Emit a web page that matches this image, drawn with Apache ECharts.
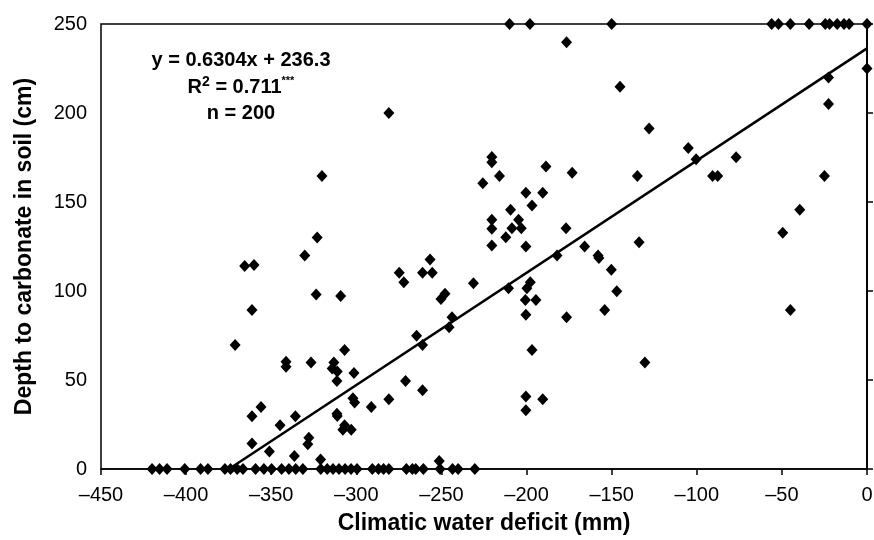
<!DOCTYPE html>
<html>
<head>
<meta charset="utf-8">
<script src="https://cdn.jsdelivr.net/npm/echarts@6/dist/echarts.min.js"></script>
<style>
  html, body { margin: 0; padding: 0; background: #fff; }
  #chart { width: 874px; height: 540px; }
</style>
</head>
<body>
<div id="chart"></div>
<script>
// points: [deficit (mm), depth (cm)]
const zeroRowX = [-420, -415.6, -411.2, -400.8, -391.5, -387.2, -377.2, -373.9, -370, -366.6,
    -359.2, -354.3, -349.8, -343.9, -339.6, -335.6, -331.4, -320.9, -317.1, -313.7, -310.2,
    -306.6, -303.1, -299.6, -290.6, -287, -284, -280.9, -270.6, -267.1, -265.1, -260.6,
    -250.8, -243.5, -240.2, -230.4];
const topRowX = [-210, -198, -150, -56, -52, -45, -34, -24.5, -22, -17.5, -13.5, -10.5, 0];
const otherPoints = [
    [-323.6, 98], [-309.2, 97.2], [-361.3, 89.3], [-371.2, 69.6], [-306.9, 66.8], [-341.3, 60.2],
    [-341.3, 57.4], [-326.6, 59.8], [-313.2, 59.8], [-314.2, 56.5], [-311.2, 54.8], [-301.4, 53.9],
    [-311.4, 49.5], [-302, 39.8], [-301, 37.3], [-291.2, 34.9], [-280.9, 39.2], [-356, 34.9],
    [-361.3, 29.7], [-335.8, 29.7], [-344.8, 24.6], [-311.4, 31.1], [-311.2, 29.8], [-306.9, 24.6],
    [-307.9, 22], [-303, 22], [-327.9, 17.6], [-328.5, 13.9], [-361.3, 14.3], [-351.1, 9.8],
    [-336.4, 7.3], [-321, 5.4],
    [-320.2, 164.6], [-323, 130], [-330.3, 120], [-365.6, 114], [-360.1, 114.6],
    [-280.9, 200], [-128, 191.3], [-220.4, 175.3], [-220.4, 172.4], [-188.6, 170], [-215.9, 164.6],
    [-173.2, 166.5], [-134.9, 164.6], [-225.7, 160.6], [-200.4, 155.2], [-190.5, 155.2],
    [-196.8, 148.1], [-209.4, 145.6], [-220.4, 140], [-204.7, 140], [-220.4, 135], [-208.6, 135.3],
    [-203.1, 135.3], [-212.2, 130.2], [-220.4, 125.5], [-200.4, 125], [-176.8, 135.3], [-165.9, 125],
    [-158, 119.9], [-157.5, 118.6], [-150.2, 111.9], [-133.9, 127.4], [-147, 99.8], [-182.1, 119.9],
    [-274.8, 110.2], [-272.1, 104.9], [-256.7, 117.7], [-261.1, 110.2], [-255.4, 110.2],
    [-231.2, 104.3], [-247.9, 98.4], [-250.3, 95.5], [-210.6, 101.5], [-197.8, 104.9],
    [-199.8, 101.5], [-200.7, 95], [-194.5, 95],
    [-200.4, 86.7], [-176.5, 85.2], [-154.1, 89.3], [-130.5, 59.9], [-196.8, 66.8], [-243.8, 85.2],
    [-245.5, 79.6], [-264.6, 74.9], [-261.1, 69.6], [-271.1, 49.5], [-261.1, 44.3], [-200.4, 40.7],
    [-190.5, 39.2], [-200.4, 33], [-251.3, 4.5],
    [0, 225], [-22.6, 220], [-22.6, 205.1], [-145.1, 214.7], [-105, 180.3], [-100.4, 174],
    [-90.7, 164.6], [-87.7, 164.6], [-76.9, 175.1], [-25, 164.6], [-39.5, 145.6],
    [-49.5, 132.7], [-45, 89.3], [-176.5, 239.7]
];

// fitted line y = a*x + b
const slope = 0.6304;
const intercept = 236.3;

const xTicks = [-450, -400, -350, -300, -250, -200, -150, -100, -50, 0];
const yTicks = [0, 50, 100, 150, 200, 250];

const points = []
    .concat(zeroRowX.map(x => [x, 0]))
    .concat(topRowX.map(x => [x, 250]))
    .concat(otherPoints);

const fitLine = [[-intercept / slope, 0], [0, intercept]];

const font = 'Liberation Sans, Arial, Helvetica, sans-serif';
const chart = echarts.init(document.getElementById('chart'));

function note(text, y, extra) {
    return {
        type: 'text', x: 241, y: y, z: 10,
        style: Object.assign({
            text: text, font: 'bold 20px ' + font, fill: '#000',
            align: 'center', verticalAlign: 'middle'
        }, extra || {})
    };
}

chart.setOption({
    animation: false,
    backgroundColor: '#fff',
    grid: { left: 101, right: 7, top: 24, bottom: 71, outerBoundsMode: 'none',
        show: true, borderColor: '#000', borderWidth: 1.5 },
    xAxis: {
        type: 'value',
        min: xTicks[0], max: xTicks[xTicks.length - 1], interval: 50,
        axisLine: { lineStyle: { color: '#000', width: 1.5 } },
        axisTick: { show: true, inside: false, length: 6, lineStyle: { color: '#000', width: 1.5 } },
        axisLabel: { color: '#000', fontSize: 20, fontFamily: font, margin: 16,
            formatter: v => (v < 0 ? '\u2013' + Math.abs(v) : String(v)) },
        splitLine: { show: false },
        name: 'Climatic water deficit (mm)',
        nameLocation: 'middle', nameGap: 43,
        nameTextStyle: { color: '#000', fontSize: 23, fontWeight: 'bold', fontFamily: font }
    },
    yAxis: [{
        type: 'value',
        min: yTicks[0], max: yTicks[yTicks.length - 1], interval: 50,
        axisLine: { show: true, lineStyle: { color: '#000', width: 1.5 } },
        axisTick: { show: false },
        axisLabel: { color: '#000', fontSize: 20, fontFamily: font, margin: 14 },
        splitLine: { show: false },
        name: 'Depth to carbonate in soil (cm)',
        nameLocation: 'middle', nameGap: 65,
        nameTextStyle: { color: '#000', fontSize: 23, fontWeight: 'bold', fontFamily: font }
    }, {
        type: 'value', position: 'right',
        min: yTicks[0], max: yTicks[yTicks.length - 1], interval: 50,
        axisLine: { show: true, lineStyle: { color: '#000', width: 1.5 } },
        axisTick: { show: true, inside: false, length: 6, lineStyle: { color: '#000', width: 1.5 } },
        axisLabel: { show: false },
        splitLine: { show: false }
    }],
    graphic: [
        note('y = 0.6304x + 236.3', 60),
        note('R{sup|2} = 0.711{star|***}', 87, {
            rich: {
                sup: { font: 'bold 14px ' + font, fill: '#000', verticalAlign: 'top', padding: [0, 0, 9, 0] },
                star: { font: 'bold 11px ' + font, fill: '#000', verticalAlign: 'top', padding: [0, 0, 11, 0] }
            }
        }),
        note('n = 200', 113)
    ],
    series: [{
        type: 'line',
        data: fitLine,
        symbol: 'none',
        lineStyle: { color: '#000', width: 2.5 },
        z: 3
    }, {
        type: 'scatter',
        data: points,
        symbol: 'diamond',
        symbolSize: [11, 12],
        itemStyle: { color: '#000', opacity: 1 },
        clip: false,
        z: 4
    }]
});
</script>
</body>
</html>
